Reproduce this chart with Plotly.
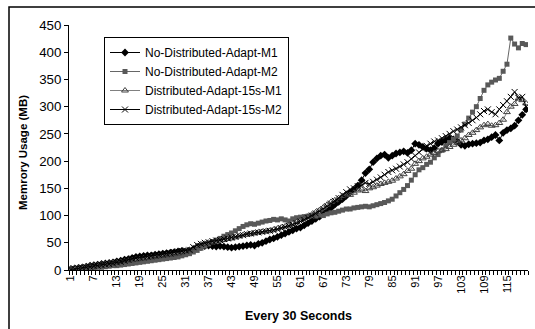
import plotly.graph_objects as go

categories = list(range(1, 121))
tick_labels = [str(c) for c in range(1, 121, 6)]

no_dist_m1 = [2, 3, 4, 5, 6, 8, 9, 10, 11, 12,
              13, 14, 16, 17, 19, 20, 22, 24, 25, 26,
              27, 27, 28, 29, 30, 31, 32, 33, 34, 35,
              34, 36, 38, 40, 42, 44, 45, 44, 43, 44,
              43, 42, 41, 42, 43, 44, 45, 46, 45, 48,
              50, 53, 56, 58, 61, 64, 67, 70, 73, 76,
              78, 82, 86, 90, 94, 98, 103, 108, 114, 120,
              125, 130, 136, 142, 148, 155, 165, 178, 185, 198,
              205, 210, 212, 206, 210, 214, 216, 218, 215, 220,
              232, 230, 226, 223, 220, 224, 232, 235, 238, 242,
              240, 236, 230, 228, 231, 232, 233, 234, 238, 240,
              244, 248, 238, 252, 257, 260, 265, 275, 285, 295]

no_dist_m2 = [0, 1, 1, 2, 3, 3, 4, 5, 5, 6,
              7, 8, 8, 9, 10, 11, 12, 13, 14, 15,
              16, 17, 18, 19, 20, 21, 22, 23, 24, 26,
              28, 30, 33, 36, 40, 44, 48, 52, 55, 58,
              62, 65, 68, 72, 76, 80, 83, 85, 84, 86,
              88, 90, 91, 93, 92, 94, 92, 90, 94, 96,
              97, 98, 99, 100, 99, 101, 100, 103, 105, 106,
              108, 110, 112, 112, 114, 115, 116, 117, 116, 118,
              120, 122, 124, 127, 130, 136, 142, 148, 155, 165,
              175, 184, 188, 194, 198, 206, 212, 220, 228, 234,
              240, 246, 257, 268, 279, 290, 300, 315, 330, 340,
              345, 349, 352, 365, 378, 426, 415, 408, 416, 414]

dist_15s_m1 = [2, 3, 4, 5, 6, 7, 8, 9, 10, 11,
               12, 13, 14, 15, 16, 17, 18, 19, 20, 21,
               22, 23, 24, 25, 26, 27, 28, 29, 30, 32,
               34, 36, 40, 44, 47, 48, 50, 51, 52, 54,
               55, 57, 58, 60, 62, 64, 65, 66, 68, 69,
               70, 71, 72, 74, 76, 78, 80, 82, 85, 88,
               92, 95, 98, 102, 106, 110, 115, 120, 125, 128,
               132, 136, 140, 138, 142, 146, 148, 145, 150, 152,
               155, 158, 160, 162, 164, 168, 172, 176, 182, 186,
               195, 200, 205, 208, 212, 215, 218, 220, 222, 226,
               230, 234, 238, 242, 248, 252, 257, 262, 266, 268,
               265, 266, 270, 276, 290, 300, 305, 315, 312, 306]

dist_15s_m2 = [1, 2, 3, 4, 5, 6, 7, 8, 9, 10,
               11, 12, 14, 15, 17, 19, 21, 22, 23, 24,
               25, 26, 27, 28, 29, 30, 31, 33, 34, 35,
               36, 37, 42, 46, 48, 50, 51, 53, 54, 55,
               57, 58, 60, 61, 63, 64, 66, 67, 68, 69,
               70, 71, 72, 73, 75, 77, 79, 81, 83, 86,
               89, 92, 96, 100, 104, 108, 112, 117, 122, 127,
               132, 138, 143, 148, 150, 154, 156, 160, 158, 162,
               166, 170, 175, 180, 183, 186, 190, 194, 198, 204,
               210, 216, 222, 228, 232, 236, 238, 242, 246, 250,
               255, 258, 262, 266, 270, 275, 280, 286, 292, 295,
               290, 286, 295, 303, 310, 318, 327, 316, 318, 300]

W, H = 535, 329
L, R, T, B = 69, 7, 25, 59
PW, PH = W - L - R, H - T - B

def px_x(p):
    return (p - L) / PW

def px_y(p):
    return (H - B - p) / PH

FONT = "Liberation Sans, Arial, sans-serif"

fig = go.Figure()
fig.add_trace(go.Scatter(
    x=categories, y=no_dist_m1, mode="lines+markers", name="No-Distributed-Adapt-M1",
    line=dict(color="black", width=1),
    marker=dict(symbol="diamond", size=6, color="black")))
fig.add_trace(go.Scatter(
    x=categories, y=no_dist_m2, mode="lines+markers", name="No-Distributed-Adapt-M2",
    line=dict(color="#666666", width=1),
    marker=dict(symbol="square", size=5, color="#595959")))
fig.add_trace(go.Scatter(
    x=categories, y=dist_15s_m1, mode="lines+markers", name="Distributed-Adapt-15s-M1",
    line=dict(color="#808080", width=1),
    marker=dict(symbol="triangle-up-open", size=6, color="#404040", line=dict(width=1))))
fig.add_trace(go.Scatter(
    x=categories, y=dist_15s_m2, mode="lines+markers", name="Distributed-Adapt-15s-M2",
    line=dict(color="black", width=1),
    marker=dict(symbol="x-thin-open", size=6, color="black", line=dict(width=1, color="black"))))

fig.update_layout(
    width=W, height=H,
    margin=dict(l=L, r=R, t=T, b=B, autoexpand=False),
    paper_bgcolor="white", plot_bgcolor="white",
    font=dict(family=FONT, color="black"),
    showlegend=True,
    legend=dict(
        x=px_x(104), y=px_y(37), xanchor="left", yanchor="top",
        bgcolor="white", bordercolor="black", borderwidth=1,
        font=dict(size=12, family=FONT), tracegroupgap=0,
        itemwidth=30),
    xaxis=dict(
        range=[0.5, 120.5], showgrid=False, zeroline=False,
        showline=True, linecolor="black", linewidth=1,
        tickmode="array", tickvals=list(range(1, 121, 6)), ticktext=tick_labels,
        ticks="", tickangle=-90, tickfont=dict(size=11),
        minor=dict(tickmode="array", tickvals=[c + 0.5 for c in range(0, 121)],
                   ticks="outside", ticklen=4, tickcolor="black", showgrid=False),
    ),
    yaxis=dict(
        range=[0, 450], showgrid=False, zeroline=False,
        showline=True, linecolor="black", linewidth=1,
        tickmode="linear", tick0=0, dtick=50,
        ticks="outside", ticklen=4, tickcolor="black",
        tickfont=dict(size=13.3),
    ),
    shapes=[dict(type="rect", xref="paper", yref="paper",
                 x0=px_x(9), x1=px_x(545), y0=px_y(340), y1=px_y(7),
                 line=dict(color="black", width=1.5), fillcolor="rgba(0,0,0,0)", layer="below")],
    annotations=[
        dict(text="<b>Every 30 Seconds</b>", xref="paper", yref="paper",
             x=0.5, y=px_y(316), xanchor="center", yanchor="middle",
             showarrow=False, font=dict(size=12.5, family=FONT)),
        dict(text="<b>Memrory Usage (MB)</b>", xref="paper", yref="paper",
             x=px_x(23), y=px_y(153), xanchor="center", yanchor="middle",
             textangle=-90, showarrow=False, font=dict(size=11.5, family=FONT)),
    ],
)

fig.write_html("out.html", config={"displayModeBar": False},
               post_script="document.body.style.margin='0';")
